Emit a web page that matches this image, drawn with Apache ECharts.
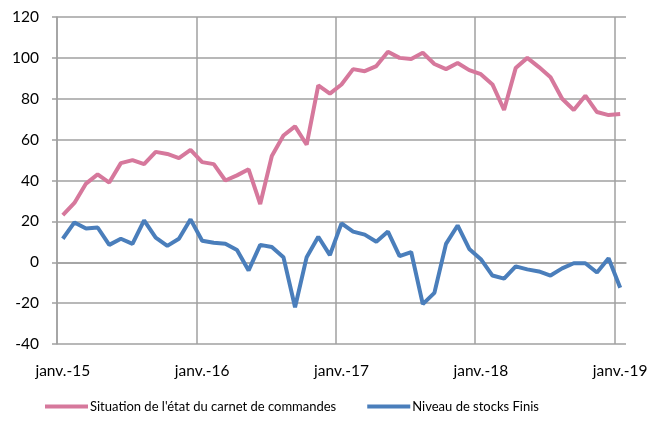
<!DOCTYPE html>
<html>
<head>
<meta charset="utf-8">
<script src="https://cdn.jsdelivr.net/npm/echarts@6/dist/echarts.min.js"></script>
<style>
  html, body { margin: 0; padding: 0; background: #fff; }
  #chart { width: 664px; height: 421px; }
</style>
</head>
<body>
<div id="chart"></div>
<script>
const monthNames = ["janv.", "févr.", "mars", "avr.", "mai", "juin", "juil.", "août", "sept.", "oct.", "nov.", "déc."]
const years = ["15", "16", "17", "18", "19"]

// janv.-15 .. janv.-19, monthly
const months = []
years.forEach((y, yi) => {
  monthNames.forEach(m => {
    if (yi < years.length - 1 || m === "janv.") months.push(m + "-" + y)
  })
})

const carnetCommandes = [
  23, 29, 38.5, 43, 39, 48.5, 50, 48, 54, 53, 51, 55,
  49, 48, 40, 42.5, 45.5, 28.5, 52, 62, 66.5, 57.5, 86.5, 82.5,
  87, 94.5, 93.5, 96, 103, 100, 99.5, 102.5, 97, 94.5, 97.5, 94,
  92, 87, 74.5, 95, 100, 95.5, 90.5, 80, 74.5, 81.5, 73.5, 72, 72.5,
]

const stocksFinis = [
  11.5, 19.5, 16.5, 17, 8.5, 11.5, 9, 20.5, 12, 8, 11.5, 21,
  10.5, 9.5, 9, 6, -4, 8.5, 7.5, 2.5, -22, 2.5, 12.5, 3.5,
  19, 15, 13.5, 10, 15, 3, 5, -20.5, -15, 9, 18, 6.5,
  1.5, -6.5, -8, -2, -3.5, -4.5, -6.5, -3, -0.5, -0.5, -5, 2, -12.5,
]

const yTicks = {min: -40, max: 120, interval: 20}

const gridColor = "#a0a0a0"
const textFont = "Lato"
const yearStart = (i) => i % 12 === 0 && i < months.length

const chart = echarts.init(document.getElementById("chart"))

chart.setOption({
  animation: false,
  color: ["#d6789c", "#4a7ebb"],
  grid: {left: 57, right: 38, top: 17, bottom: 77},
  legend: {
    bottom: 3,
    left: 40,
    itemWidth: 43,
    itemHeight: 4,
    itemGap: 31,
    icon: "rect",
    textStyle: {fontFamily: textFont, fontSize: 13, color: "#000", padding: [0, 0, 0, -3]},
    data: ["Situation de l'état du carnet de commandes", "Niveau de stocks Finis"],
  },
  xAxis: [
    {
      type: "category",
      data: months,
      boundaryGap: true,
      axisLine: {show: false, onZero: false},
      axisTick: {show: false},
      splitLine: {show: false},
      axisLabel: {interval: 11, margin: 19, fontFamily: textFont, fontSize: 15.5, color: "#000"},
    },
    {
      type: "category",
      data: months,
      position: "bottom",
      boundaryGap: true,
      axisLine: {show: true, onZero: true, lineStyle: {color: gridColor, width: 1.5}},
      axisTick: {show: false},
      axisLabel: {show: false},
      splitLine: {
        show: true,
        interval: yearStart,
        showMaxLine: false,
        lineStyle: {color: gridColor, width: 1.5},
      },
    },
  ],
  yAxis: {
    type: "value",
    min: yTicks.min,
    max: yTicks.max,
    interval: yTicks.interval,
    axisLine: {show: true, lineStyle: {color: gridColor, width: 1.5}},
    axisTick: {show: true, length: 5, lineStyle: {color: gridColor, width: 1.5}},
    splitLine: {lineStyle: {color: gridColor, width: 1.5}},
    axisLabel: {margin: 18, fontFamily: textFont, fontSize: 15.5, color: "#000"},
  },
  series: [
    {
      name: "Situation de l'état du carnet de commandes",
      type: "line",
      xAxisIndex: 0,
      data: carnetCommandes,
      showSymbol: false,
      symbol: "none",
      lineStyle: {width: 4},
    },
    {
      name: "Niveau de stocks Finis",
      type: "line",
      xAxisIndex: 0,
      data: stocksFinis,
      showSymbol: false,
      symbol: "none",
      lineStyle: {width: 4},
    },
  ],
})
</script>
</body>
</html>
